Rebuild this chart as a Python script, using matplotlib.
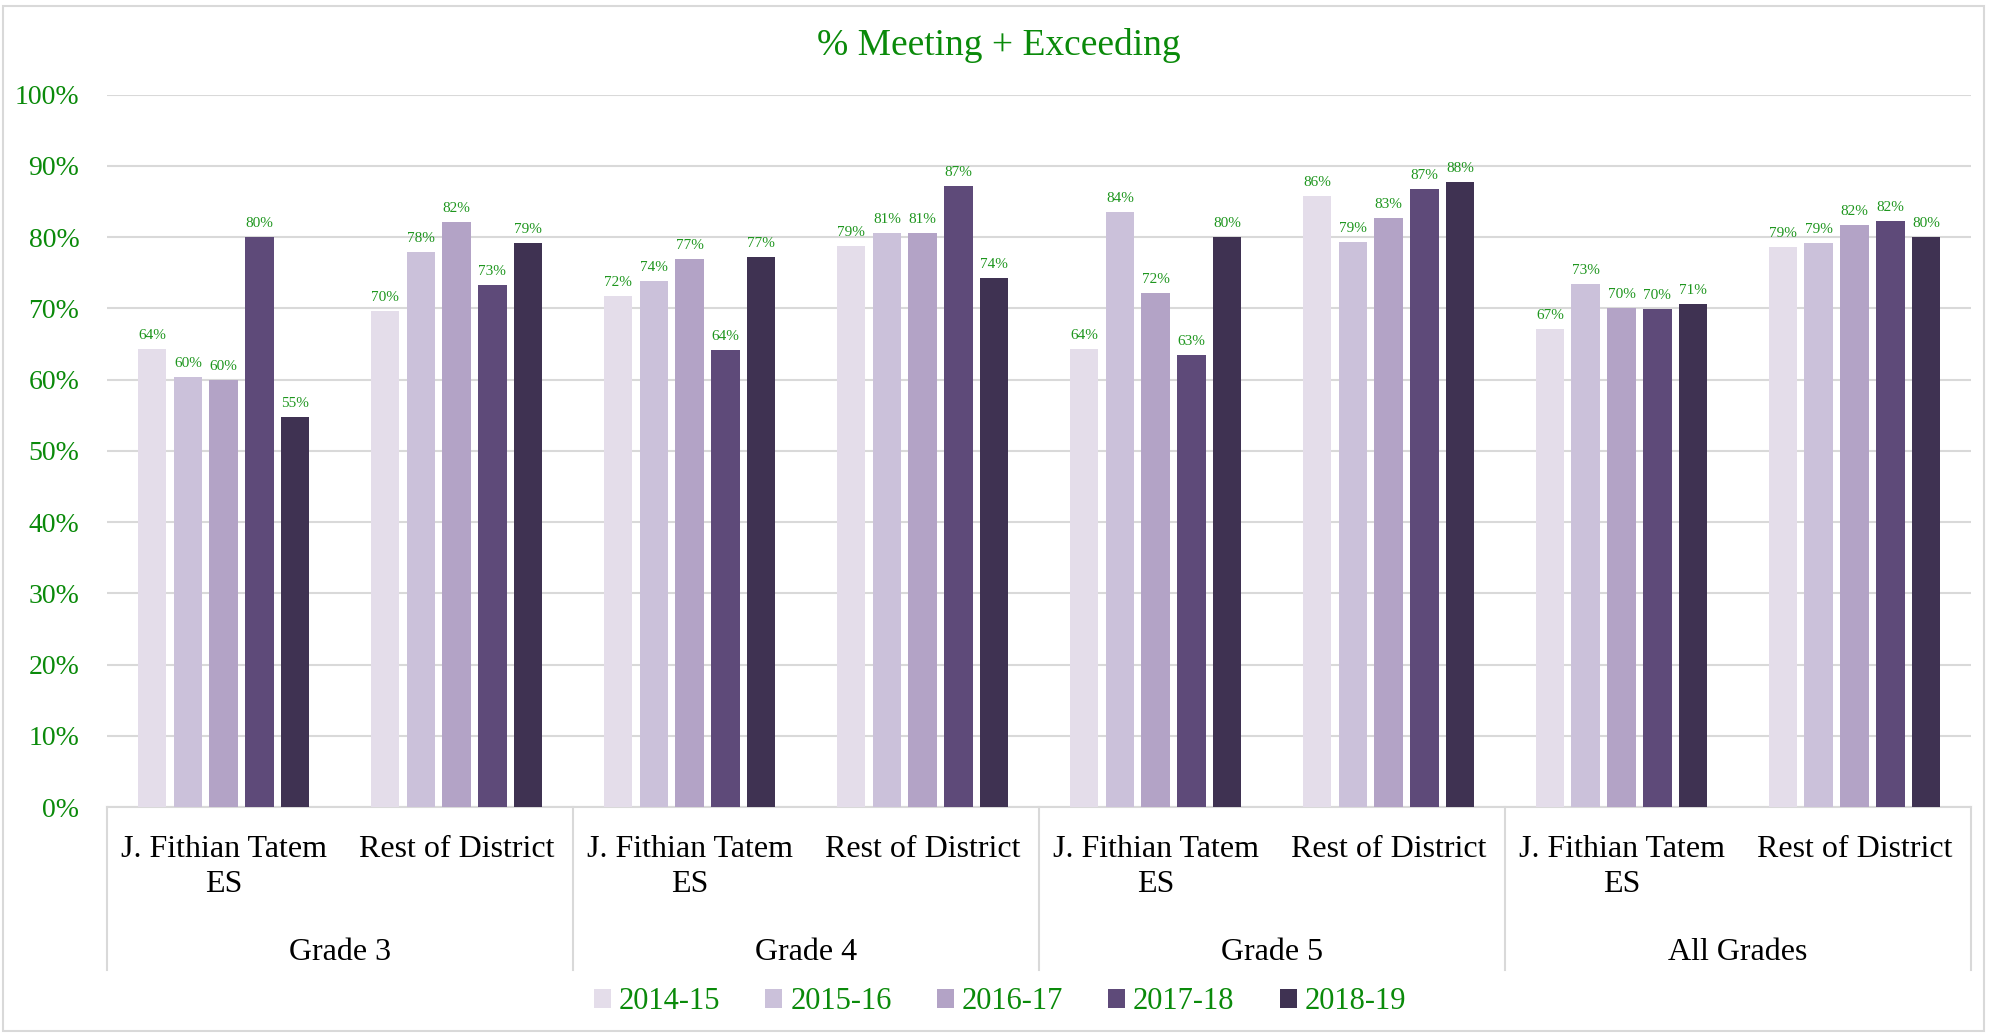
import matplotlib.pyplot as plt
import matplotlib.transforms as mtransforms
from matplotlib.patches import Patch, Rectangle
import numpy as np

plt.rcParams['font.family'] = ['Liberation Serif', 'DejaVu Serif']

# dados
grupos = ["Grade 3", "Grade 4", "Grade 5", "All Grades"]
escolas = ["J. Fithian Tatem\nES", "Rest of District"]
anos = ["2014-15", "2015-16", "2016-17", "2017-18", "2018-19"]

v_2014 = [64.3, 69.6, 71.7, 78.8, 64.3, 85.8, 67.1, 78.6]
v_2015 = [60.4, 77.9, 73.8, 80.6, 83.5, 79.3, 73.4, 79.2]
v_2016 = [60.0, 82.1, 76.9, 80.6, 72.2, 82.7, 70.1, 81.7]
v_2017 = [80.0, 73.3, 64.2, 87.2, 63.4, 86.8, 69.9, 82.3]
v_2018 = [54.8, 79.2, 77.2, 74.3, 80.0, 87.7, 70.6, 80.0]
series = [v_2014, v_2015, v_2016, v_2017, v_2018]

cores = ["#E4DDEA", "#CBC1DA", "#B3A3C6", "#5E4A79", "#3F3252"]
verde = "#0A8A0A"

fig = plt.figure(figsize=(19.94, 10.34), dpi=100)
ax = fig.add_axes([0.0537, 0.2195, 0.9348, 0.6889])

n_cat = len(grupos) * len(escolas)
x = np.arange(n_cat)
passo = 0.1534
largura = 0.123

for i, vals in enumerate(series):
    pos = x + (i - 2) * passo
    alturas = np.array(vals) / 100
    ax.bar(pos, alturas, width=largura, color=cores[i], zorder=3)
    for xp, v in zip(pos, vals):
        ax.annotate("%.0f%%" % v, (xp, v / 100), xytext=(0, 5),
                    textcoords="offset points", ha="center", va="bottom",
                    fontsize=11, color="#1E961E")

ax.set_xlim(-0.5, n_cat - 0.5)
ax.set_ylim(0, 1.0)
ax.set_yticks(np.arange(0, 1.01, 0.1))
ax.set_yticklabels(["%d%%" % (t * 10) for t in range(11)])
ax.tick_params(axis="y", length=0, pad=20, labelsize=20, labelcolor=verde)
ax.tick_params(axis="x", length=0, labelbottom=False)
ax.grid(axis="y", color="#D9D9D9", linewidth=1.5, zorder=0)
for lado in ["left", "right", "top"]:
    ax.spines[lado].set_visible(False)
ax.spines["bottom"].set_color("#D9D9D9")
ax.spines["bottom"].set_linewidth(1.5)

# eixo de categorias em dois niveis
trans = mtransforms.blended_transform_factory(ax.transData, ax.transAxes)
for k in range(n_cat):
    ax.text(x[k], -0.0393, escolas[k % 2], transform=trans, ha="center",
            va="top", fontsize=23, linespacing=1.25)
for g, nome in enumerate(grupos):
    ax.text(2 * g + 0.5, -0.2148, nome, transform=trans, ha="center",
            va="baseline", fontsize=23)
for g in range(len(grupos) + 1):
    ax.plot([2 * g - 0.5, 2 * g - 0.5], [0, -0.229], transform=trans,
            color="#D9D9D9", linewidth=1.5, clip_on=False)

fig.text(0.5009, 0.9468, "% Meeting + Exceeding", ha="center",
         va="baseline", fontsize=27, color=verde)

handles = [Patch(facecolor=c, edgecolor="none") for c in cores]
fig.legend(handles, anos, loc="center", bbox_to_anchor=(0.5015, 0.031),
           ncol=5, frameon=False, fontsize=22, labelcolor=verde,
           handlelength=0.56, handleheight=0.56, handletextpad=0.26,
           columnspacing=1.47)

# moldura do grafico
fig.patches.append(Rectangle((0.0015, 0.003), 0.9935, 0.991,
                             transform=fig.transFigure, fill=False,
                             edgecolor="#D9D9D9", linewidth=1.5))

fig.savefig("out.png", dpi=100)
